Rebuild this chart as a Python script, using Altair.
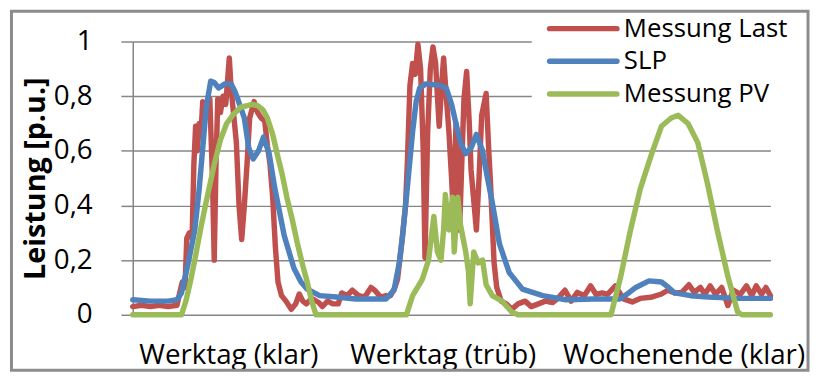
import altair as alt
import pandas as pd

# ---------------- data ----------------
series_names = ["Messung Last", "SLP", "Messung PV"]
series_colors = ["#C0504D", "#4F81BD", "#9BBB59"]

day_labels = ["Werktag (klar)", "Werktag (trüb)", "Wochenende (klar)"]
day_label_hours = [10.8, 35.0, 62.2]

y_ticks = [0, 0.2, 0.4, 0.6, 0.8, 1.0]

last_h = [0, 1, 2, 3, 4, 5.0, 5.3, 5.6, 5.9, 6.1, 6.4, 6.7, 6.9, 7.1, 7.3, 7.5, 7.7, 7.9, 8.1, 8.4,
          8.7, 9.0, 9.2, 9.4, 9.6, 9.9, 10.2, 10.5, 10.9, 11.1, 11.4, 11.7, 12.0, 12.3, 12.6, 12.9,
          13.2, 13.7, 14.1, 14.5, 14.9, 15.2, 15.5, 15.8, 16.1, 16.4, 16.8, 17.3, 17.9, 18.4, 18.8,
          19.2, 19.6, 20.2, 21.0, 21.4, 22.0, 22.6, 23.2, 23.6, 24.2, 24.8, 25.5, 26.2, 26.9, 27.3,
          28.0, 28.6, 29.1, 29.6, 29.9, 30.4, 30.8, 31.0, 31.3, 31.6, 31.9, 32.2, 32.5, 32.8, 33.0,
          33.3, 33.6, 33.9, 34.2, 34.4, 34.6, 34.9, 35.1, 35.4, 35.7, 36.0, 36.2, 36.5, 36.7, 36.9,
          37.2, 37.4, 37.7, 38.0, 38.2, 38.5, 38.8, 39.1, 39.4, 39.9, 40.2, 40.4, 40.8, 41.1, 41.6,
          42.2, 42.8, 43.5, 44.3, 45.0, 45.8, 46.6, 47.4, 48.0, 48.8, 49.5, 50.2, 51.0, 51.7, 52.3,
          53.0, 53.6, 54.5, 55.4, 56.4, 57.3, 58.5, 59.7, 60.4, 61.2, 62.0, 62.8, 63.4, 64.1, 64.6,
          65.2, 65.8, 66.5, 67.2, 67.8, 68.6, 69.3, 69.9, 70.4, 71.0, 71.5, 72.0]
last_v = [0.03, 0.035, 0.03, 0.035, 0.03, 0.035, 0.08, 0.12, 0.10, 0.28, 0.30, 0.28, 0.55, 0.69, 0.60,
          0.70, 0.66, 0.78, 0.72, 0.78, 0.79, 0.50, 0.20, 0.55, 0.79, 0.74, 0.80, 0.77, 0.94, 0.83,
          0.73, 0.63, 0.40, 0.275, 0.40, 0.55, 0.72, 0.78, 0.74, 0.72, 0.71, 0.62, 0.55, 0.43, 0.25,
          0.12, 0.07, 0.05, 0.02, 0.04, 0.076, 0.05, 0.04, 0.06, 0.045, 0.03, 0.05, 0.04, 0.04, 0.08,
          0.07, 0.09, 0.07, 0.065, 0.10, 0.09, 0.065, 0.07, 0.07, 0.10, 0.13, 0.27, 0.40, 0.55, 0.84,
          0.92, 0.88, 0.99, 0.90, 0.60, 0.21, 0.67, 0.90, 0.98, 0.92, 0.80, 0.69, 0.85, 0.94, 0.80,
          0.67, 0.50, 0.37, 0.70, 0.50, 0.31, 0.60, 0.79, 0.89, 0.70, 0.53, 0.42, 0.31, 0.50, 0.73,
          0.81, 0.60, 0.48, 0.19, 0.10, 0.05, 0.04, 0.02, 0.04, 0.05, 0.03, 0.04, 0.05, 0.045, 0.06,
          0.09, 0.05, 0.082, 0.07, 0.106, 0.075, 0.08, 0.075, 0.106, 0.058, 0.047, 0.06, 0.064, 0.076,
          0.09, 0.08, 0.082, 0.11, 0.082, 0.10, 0.075, 0.106, 0.075, 0.10, 0.034, 0.09, 0.075, 0.106,
          0.07, 0.106, 0.075, 0.10, 0.07]

slp_h = [0, 2, 4, 5.0, 5.5, 6.2, 7.0, 7.5, 7.9, 8.3, 8.8, 9.2, 9.7, 10.4, 11.1, 11.5, 11.85, 12.6,
         13.1, 13.6, 14.2, 14.76, 15.4, 16.0, 17.1, 18.2, 19.0, 19.7, 21.1, 23.0, 25.2, 28.6, 29.5,
         30.1, 30.5, 30.9, 31.6, 32.0, 32.4, 33.1, 34.6, 35.4, 36.0, 36.5, 37.0, 37.6, 38.2, 38.8,
         39.5, 40.0, 40.6, 41.4, 42.5, 44.0, 46.3, 48.9, 52.0, 55.0, 56.0, 56.8, 58.3, 59.7, 60.5,
         61.2, 63.0, 65.0, 68.4, 72.0]
slp_v = [0.055, 0.05, 0.05, 0.055, 0.08, 0.18, 0.31, 0.46, 0.61, 0.76, 0.855, 0.85, 0.83, 0.845,
         0.845, 0.82, 0.79, 0.72, 0.61, 0.57, 0.60, 0.65, 0.59, 0.47, 0.29, 0.17, 0.12, 0.094, 0.07,
         0.065, 0.058, 0.058, 0.09, 0.19, 0.30, 0.43, 0.67, 0.78, 0.83, 0.845, 0.84, 0.83, 0.77, 0.70,
         0.63, 0.59, 0.61, 0.66, 0.60, 0.51, 0.41, 0.26, 0.155, 0.094, 0.07, 0.055, 0.058, 0.058,
         0.08, 0.10, 0.124, 0.12, 0.10, 0.08, 0.07, 0.065, 0.06, 0.06]

pv_h = [0, 5.5, 6.0, 6.5, 7.0, 7.7, 8.4, 9.2, 9.9, 10.6, 11.4, 12.2, 12.9, 13.5, 14.1, 14.7, 15.2,
        15.8, 16.3, 16.9, 17.4, 18.0, 18.6, 19.2, 19.7, 20.2, 20.7, 30.9, 31.6, 32.7, 33.4, 34.0,
        34.4, 34.8, 35.1, 35.3, 35.7, 36.1, 36.3, 36.7, 37.0, 37.6, 37.9, 38.1, 38.5, 39.0, 39.5,
        39.9, 40.6, 41.7, 42.8, 43.5, 54.0, 55.1, 56.2, 57.3, 58.0, 58.6, 59.7, 60.8, 61.6, 62.7,
        63.8, 64.9, 66.0, 67.2, 68.3, 68.8, 72.0]
pv_v = [0, 0, 0.05, 0.12, 0.20, 0.32, 0.43, 0.55, 0.64, 0.70, 0.735, 0.76, 0.765, 0.77, 0.765, 0.75,
        0.72, 0.66, 0.59, 0.51, 0.43, 0.35, 0.26, 0.18, 0.12, 0.05, 0, 0, 0.07, 0.13, 0.20, 0.36,
        0.23, 0.20, 0.31, 0.44, 0.31, 0.43, 0.23, 0.43, 0.33, 0.23, 0.16, 0.04, 0.23, 0.19, 0.20,
        0.11, 0.07, 0.05, 0.01, 0, 0, 0.14, 0.31, 0.46, 0.53, 0.59, 0.69, 0.72, 0.73, 0.70, 0.63,
        0.48, 0.31, 0.14, 0.01, 0, 0]

# ---------------- styling ----------------
FONT = "Open Sans"
GRID = "#868686"
W, H = 644, 276
LW = 5.5

series_data = [
    pd.DataFrame({"h": last_h, "v": last_v}),
    pd.DataFrame({"h": slp_h, "v": slp_v}),
    pd.DataFrame({"h": pv_h, "v": pv_v}),
]

x_label_expr = (
    f"datum.value < 20 ? '{day_labels[0]}' : datum.value < 50 ? '{day_labels[1]}' : '{day_labels[2]}'"
)
y_label_expr = (
    "datum.value == 0 ? '0' : datum.value == 1 ? '1' : replace(format(datum.value, '.1f'), '.', ',')"
)

x_enc = alt.X(
    "h:Q",
    scale=alt.Scale(domain=[0, 72], nice=False, zero=False),
    axis=alt.Axis(
        values=day_label_hours,
        labelExpr=x_label_expr,
        grid=False,
        ticks=False,
        domain=False,
        labelFontSize=28,
        labelFont=FONT,
        labelColor="black",
        labelPadding=49,
        labelBaseline="alphabetic",
        labelAlign="center",
        labelFlush=False,
        labelOverlap=False,
        labelLimit=0,
        title=None,
    ),
)
y_enc = alt.Y(
    "v:Q",
    scale=alt.Scale(domain=[0, 1], nice=False),
    axis=alt.Axis(
        values=y_ticks,
        labelExpr=y_label_expr,
        grid=True,
        gridColor=GRID,
        gridWidth=1.5,
        domain=True,
        domainColor=GRID,
        domainWidth=1.5,
        ticks=True,
        tickSize=12,
        tickColor=GRID,
        tickWidth=1.5,
        labelFontSize=28,
        labelFont=FONT,
        labelColor="black",
        labelPadding=29,
        title="Leistung [p.u.]",
        titleFont=FONT,
        titleFontSize=29,
        titleFontWeight="bold",
        titleColor="black",
        titleX=-98,
        titleY=138,
        titleBaseline="middle",
        titleAngle=270,
        titleLimit=0,
    ),
)

lines = []
for i, (df, col) in enumerate(zip(series_data, series_colors)):
    enc = {"x": x_enc, "y": y_enc} if i == 0 else {"x": "h:Q", "y": "v:Q"}
    lines.append(
        alt.Chart(df)
        .mark_line(color=col, strokeWidth=LW, strokeJoin="round", strokeCap="round")
        .encode(**enc)
    )

dummy = pd.DataFrame({"k": [0]})

frame = alt.Chart(dummy).mark_rect(
    fillOpacity=0, stroke="#8c8c8c", strokeWidth=3
).encode(
    x=alt.value(-122.5), x2=alt.value(682), y=alt.value(-30.5), y2=alt.value(332)
)

legend_box = alt.Chart(dummy).mark_rect(fill="white").encode(
    x=alt.value(403), x2=alt.value(672), y=alt.value(-32), y2=alt.value(70)
)

legend_rows_y = [-13, 20, 53]
legend_layers = []
for name, col, ly in zip(series_names, series_colors, legend_rows_y):
    legend_layers.append(
        alt.Chart(dummy).mark_rule(color=col, strokeWidth=LW, strokeCap="round").encode(
            x=alt.value(421), x2=alt.value(489), y=alt.value(ly)
        )
    )
    legend_layers.append(
        alt.Chart(dummy).mark_text(
            text=name, align="left", baseline="middle", font=FONT, fontSize=26, color="black"
        ).encode(x=alt.value(496), y=alt.value(ly))
    )

chart = (
    alt.layer(*lines, legend_box, *legend_layers, frame)
    .properties(
        width=W,
        height=H,
        padding={"left": 126, "top": 32, "right": 40, "bottom": 63},
        autosize=alt.AutoSizeParams(type="none"),
        background="white",
    )
    .configure_view(strokeWidth=0)
)

chart.save("out.html", embed_options={"renderer": "svg", "actions": False})
